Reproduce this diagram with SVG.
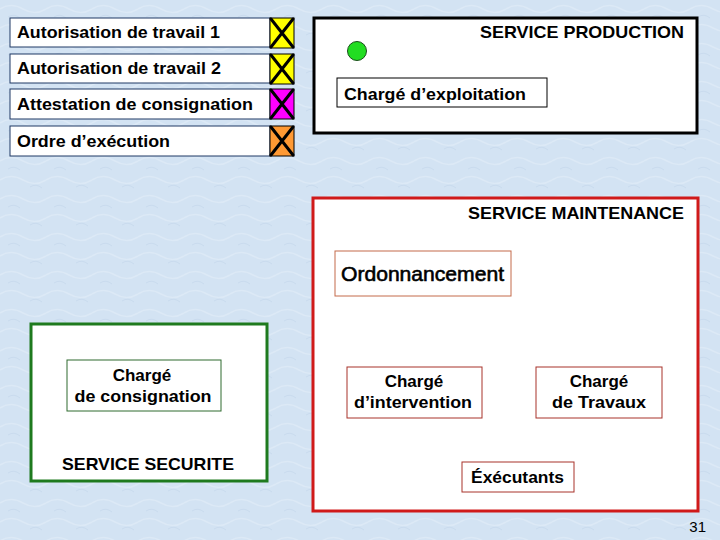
<svg xmlns="http://www.w3.org/2000/svg" width="720" height="540" viewBox="0 0 720 540">
<defs>
<style>
text{font-family:"Liberation Sans",Arial,sans-serif;fill:#000}
.b{font-weight:bold;font-size:17px}
.doc{fill:#fff;stroke:#1F3864;stroke-width:1}
.x{stroke:#000;stroke-width:3;stroke-linecap:round}
.ic{stroke:#000;stroke-width:1}
.mbox{fill:#fff;stroke:#A8322A;stroke-width:1}
.c{text-anchor:middle}
</style>
<pattern id="bgp" width="46" height="38" patternUnits="userSpaceOnUse">
<rect width="46" height="38" fill="#D3E3F3"/>
<path d="M0 9 Q11 2 23 9 T46 9 M0 28 Q11 21 23 28 T46 28" fill="none" stroke="#DCE9F6" stroke-width="1.5"/>
<path d="M8 17 Q14 13 20 18 M30 35 Q36 31 42 36" fill="none" stroke="#C9DBEE" stroke-width="1"/>
</pattern>
</defs>
<rect width="720" height="540" fill="url(#bgp)"/>

<g id="doc1">
<rect class="doc" x="10" y="18" width="260" height="29"/>
<text class="b" x="17" y="38" textLength="203" lengthAdjust="spacingAndGlyphs">Autorisation de travail 1</text>
<rect class="ic" x="270" y="18" width="24" height="30" fill="#FFFF00"/>
<path class="x" d="M271 19L293 47M293 19L271 47"/>
</g>
<g id="doc2">
<rect class="doc" x="10" y="54" width="260" height="29"/>
<text class="b" x="17" y="74" textLength="204" lengthAdjust="spacingAndGlyphs">Autorisation de travail 2</text>
<rect class="ic" x="270" y="54" width="24" height="30" fill="#FFFF00"/>
<path class="x" d="M271 55L293 83M293 55L271 83"/>
</g>
<g id="doc3">
<rect class="doc" x="10" y="89" width="260" height="30"/>
<text class="b" x="17" y="110" textLength="236" lengthAdjust="spacingAndGlyphs">Attestation de consignation</text>
<rect class="ic" x="270" y="89" width="24" height="30" fill="#FF00FF"/>
<path class="x" d="M271 90L293 118M293 90L271 118"/>
</g>
<g id="doc4">
<rect class="doc" x="10" y="126" width="260" height="30"/>
<text class="b" x="17" y="147" textLength="153" lengthAdjust="spacingAndGlyphs">Ordre d’exécution</text>
<rect class="ic" x="270" y="126" width="24" height="30" fill="#FF9933"/>
<path class="x" d="M271 127L293 155M293 127L271 155"/>
</g>

<g id="production">
<rect x="314" y="18" width="383" height="115" fill="#fff" stroke="#000" stroke-width="3"/>
<text class="b" x="480" y="38" textLength="204" lengthAdjust="spacingAndGlyphs">SERVICE PRODUCTION</text>
<circle cx="357" cy="51" r="9.5" fill="#22DD22" stroke="#1A4D1A" stroke-width="1"/>
</g>
<g id="exploitation">
<rect x="337" y="78" width="210" height="29" fill="#fff" stroke="#000" stroke-width="1"/>
<text class="b" x="344" y="100" textLength="182" lengthAdjust="spacingAndGlyphs">Chargé d’exploitation</text>
</g>

<g id="maintenance">
<rect x="313" y="198" width="385" height="313" fill="#fff" stroke="#D01A1A" stroke-width="3"/>
<text class="b" x="468" y="219" textLength="216" lengthAdjust="spacingAndGlyphs">SERVICE MAINTENANCE</text>
</g>
<g id="ordonnancement">
<rect x="335" y="251" width="176" height="45" fill="#fff" stroke="#C46A4A" stroke-width="1"/>
<text x="341" y="281" font-size="21" stroke="#000" stroke-width="0.6" textLength="163" lengthAdjust="spacingAndGlyphs">Ordonnancement</text>
</g>
<g id="intervention">
<rect class="mbox" x="347" y="367" width="135" height="51"/>
<text class="b c" x="414" y="387">Chargé</text>
<text class="b c" x="413" y="408" textLength="118" lengthAdjust="spacingAndGlyphs">d’intervention</text>
</g>
<g id="travaux">
<rect class="mbox" x="536" y="367" width="126" height="51"/>
<text class="b c" x="599" y="387">Chargé</text>
<text class="b c" x="599" y="408" textLength="94" lengthAdjust="spacingAndGlyphs">de Travaux</text>
</g>
<g id="executants">
<rect class="mbox" x="462" y="462" width="112" height="30"/>
<text class="b" x="471" y="483" textLength="93" lengthAdjust="spacingAndGlyphs">Éxécutants</text>
</g>

<g id="securite">
<rect x="31" y="324" width="236" height="157" fill="#fff" stroke="#1E7A1E" stroke-width="3"/>
<text class="b" x="62" y="470" textLength="172" lengthAdjust="spacingAndGlyphs">SERVICE SECURITE</text>
</g>
<g id="consignation">
<rect x="67" y="360" width="154" height="51" fill="#fff" stroke="#2E6B2E" stroke-width="1"/>
<text class="b c" x="142" y="381">Chargé</text>
<text class="b c" x="143" y="402" textLength="137" lengthAdjust="spacingAndGlyphs">de consignation</text>
</g>

<g id="connectors"></g>

<text x="706" y="532" font-size="15" text-anchor="end">31</text>
</svg>
